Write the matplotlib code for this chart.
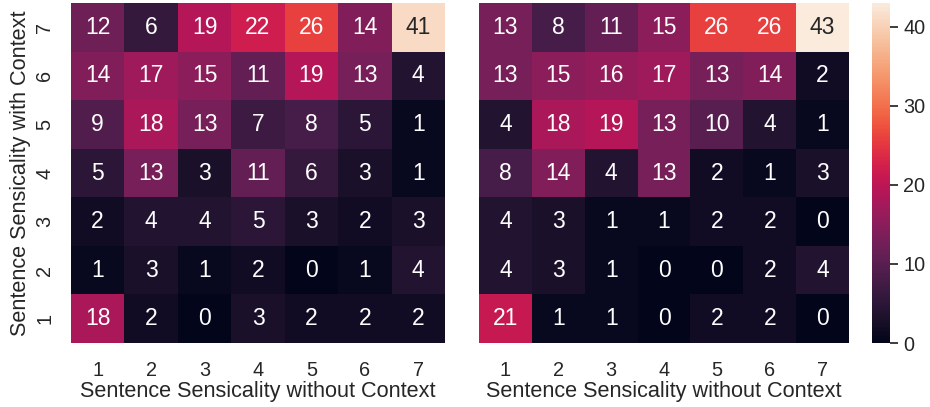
import numpy as np
import matplotlib
matplotlib.use('Agg')
import matplotlib.pyplot as plt
import seaborn as sns

# Counts, rows are "with Context" 7 (top) .. 1 (bottom), columns "without Context" 1..7
levels = [1, 2, 3, 4, 5, 6, 7]
row_labels = [7, 6, 5, 4, 3, 2, 1]

left_counts = [
    [12, 6, 19, 22, 26, 14, 41],
    [14, 17, 15, 11, 19, 13, 4],
    [9, 18, 13, 7, 8, 5, 1],
    [5, 13, 3, 11, 6, 3, 1],
    [2, 4, 4, 5, 3, 2, 3],
    [1, 3, 1, 2, 0, 1, 4],
    [18, 2, 0, 3, 2, 2, 2],
]

right_counts = [
    [13, 8, 11, 15, 26, 26, 43],
    [13, 15, 16, 17, 13, 14, 2],
    [4, 18, 19, 13, 10, 4, 1],
    [8, 14, 4, 13, 2, 1, 3],
    [4, 3, 1, 1, 2, 2, 0],
    [4, 3, 1, 0, 0, 2, 4],
    [21, 1, 1, 0, 2, 2, 0],
]

sns.set_theme(style="white", font_scale=1.3)
plt.rcParams['font.family'] = ['Liberation Sans', 'DejaVu Sans']

fig = plt.figure(figsize=(9.3, 4.07), dpi=100)
ax1 = fig.add_axes([0.0763, 0.1572, 0.4022, 0.8354])
ax2 = fig.add_axes([0.5151, 0.1572, 0.3978, 0.8354])
cax = fig.add_axes([0.9376, 0.1572, 0.0194, 0.8354])

vmax = max(np.max(left_counts), np.max(right_counts))

sns.heatmap(np.array(left_counts), ax=ax1, annot=True, fmt='d', vmin=0, vmax=vmax,
            cbar=False, xticklabels=levels, yticklabels=row_labels,
            annot_kws={'size': 16.5})
sns.heatmap(np.array(right_counts), ax=ax2, annot=True, fmt='d', vmin=0, vmax=vmax,
            cbar=True, cbar_ax=cax, xticklabels=levels, yticklabels=False,
            annot_kws={'size': 16.5})

ax1.set_xlabel('Sentence Sensicality without Context', labelpad=1)
ax2.set_xlabel('Sentence Sensicality without Context', labelpad=1)
ax1.set_ylabel('Sentence Sensicality with Context', labelpad=3)
ax1.set_yticklabels(row_labels, rotation=90, va='center')

for ax in (ax1, ax2):
    ax.tick_params(axis='x', length=0, pad=13)
    ax.tick_params(axis='y', length=0, pad=12)

cax.set_yticks([0, 10, 20, 30, 40])

plt.savefig('out.png', dpi=100)
plt.close()
